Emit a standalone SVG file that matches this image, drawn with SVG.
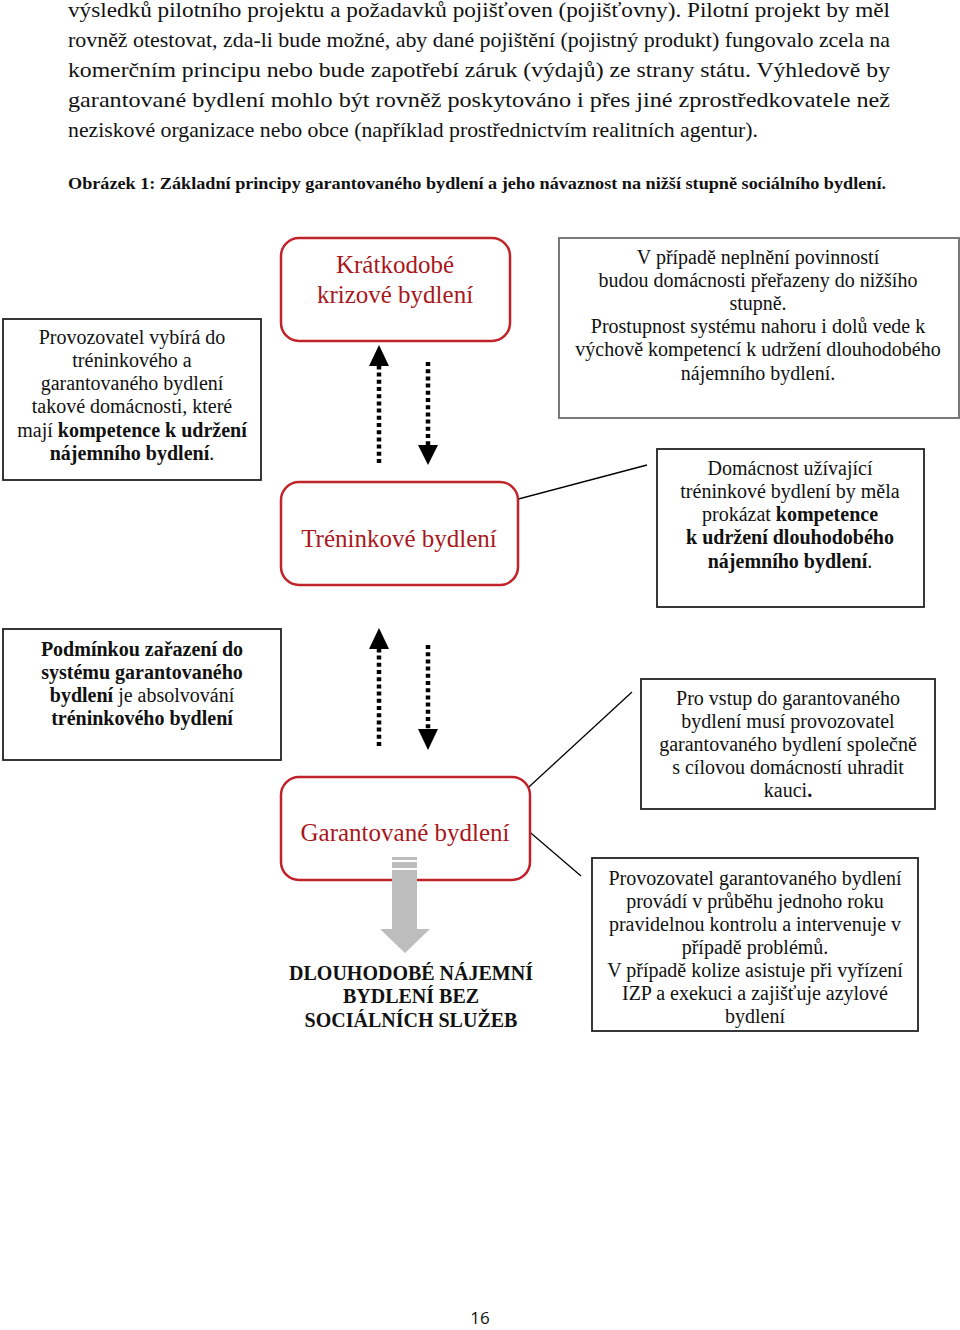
<svg xmlns="http://www.w3.org/2000/svg" width="960" height="1330" viewBox="0 0 960 1330">
<style>
.p{font-family:"Liberation Serif","Times New Roman",serif;font-size:21.5px;fill:#111}
.cap{font-family:"Liberation Serif","Times New Roman",serif;font-size:17px;font-weight:bold;fill:#111}
.t{font-family:"Liberation Serif","Times New Roman",serif;font-size:20px;fill:#111;text-anchor:middle}
.b{font-weight:bold}
.r{font-family:"Liberation Serif","Times New Roman",serif;font-size:25px;fill:#a8171c;text-anchor:middle}
.rb{fill:#fff;stroke:#c0232a;stroke-width:2.5}
.bx{fill:#fff;stroke:#222;stroke-width:1.8}
.gbx{fill:#fff;stroke:#7a7a7a;stroke-width:2}
.dot{stroke:#000;stroke-width:4.5;stroke-dasharray:4 3.2;fill:none}
.ln{stroke:#000;stroke-width:1.3;fill:none}
.hd{fill:#000}
</style>

<g id="body-text">
<text class="p" x="68" y="17" textLength="822" lengthAdjust="spacingAndGlyphs">výsledků pilotního projektu a požadavků pojišťoven (pojišťovny). Pilotní projekt by měl</text>
<text class="p" x="68" y="47" textLength="822" lengthAdjust="spacingAndGlyphs">rovněž otestovat, zda-li bude možné, aby dané pojištění (pojistný produkt) fungovalo zcela na</text>
<text class="p" x="68" y="77" textLength="822" lengthAdjust="spacingAndGlyphs">komerčním principu nebo bude zapotřebí záruk (výdajů) ze strany státu. Výhledově by</text>
<text class="p" x="68" y="107" textLength="822" lengthAdjust="spacingAndGlyphs">garantované bydlení mohlo být rovněž poskytováno i přes jiné zprostředkovatele než</text>
<text class="p" x="68" y="137" textLength="690" lengthAdjust="spacingAndGlyphs">neziskové organizace nebo obce (například prostřednictvím realitních agentur).</text>
<text class="cap" x="68" y="189" textLength="818" lengthAdjust="spacingAndGlyphs">Obrázek 1: Základní principy garantovaného bydlení a jeho návaznost na nižší stupně sociálního bydlení.</text>
</g>

<g id="connectors">
<line class="dot" x1="379" y1="463" x2="379" y2="366"/>
<polygon class="hd" points="369,366 389,366 379,345"/>
<line class="dot" x1="428" y1="362" x2="428" y2="446"/>
<polygon class="hd" points="418,445 438,445 428,465"/>
<line class="dot" x1="379" y1="746" x2="379" y2="649"/>
<polygon class="hd" points="369,649 389,649 379,628"/>
<line class="dot" x1="428" y1="645" x2="428" y2="730"/>
<polygon class="hd" points="418,729 438,729 428,750"/>
<line class="ln" x1="488" y1="507" x2="647" y2="465"/>
<line class="ln" x1="518" y1="797" x2="632" y2="692"/>
<line class="ln" x1="525" y1="828" x2="581" y2="876"/>
</g>

<g id="node-kratkodobe">
<rect class="rb" x="281" y="238" width="229" height="103" rx="18"/>
<text class="r" x="395" y="273">Krátkodobé</text>
<text class="r" x="395" y="303">krizové bydlení</text>
</g>

<g id="node-treninkove">
<rect class="rb" x="281" y="482" width="237" height="103" rx="18"/>
<text class="r" x="399" y="547">Tréninkové bydlení</text>
</g>

<g id="node-garantovane">
<rect class="rb" x="281" y="777" width="249" height="103" rx="18"/>
<text class="r" x="405" y="841">Garantované bydlení</text>
</g>

<g id="block-arrow">
<rect x="392" y="857" width="25" height="3" fill="#bdbdbd"/>
<rect x="392" y="862" width="25" height="6" fill="#bdbdbd"/>
<polygon fill="#bdbdbd" points="392,870 417,870 417,929 430,929 405,953 380,929 392,929"/>
</g>

<g id="node-dlouhodobe">
<text class="t b" x="411" y="980">DLOUHODOBÉ NÁJEMNÍ</text>
<text class="t b" x="411" y="1003">BYDLENÍ BEZ</text>
<text class="t b" x="411" y="1027">SOCIÁLNÍCH SLUŽEB</text>
</g>

<g id="note-provozovatel-vybira">
<rect class="bx" x="3" y="319" width="258" height="161"/>
<text class="t" x="132" y="344">Provozovatel vybírá do</text>
<text class="t" x="132" y="367">tréninkového a</text>
<text class="t" x="132" y="390">garantovaného bydlení</text>
<text class="t" x="132" y="413">takové domácnosti, které</text>
<text class="t" x="132" y="437">mají <tspan class="b">kompetence k udržení</tspan></text>
<text class="t" x="132" y="460"><tspan class="b">nájemního bydlení</tspan>.</text>
</g>

<g id="note-neplneni">
<rect class="gbx" x="559" y="238" width="400" height="180"/>
<text class="t" x="758" y="264">V případě neplnění povinností</text>
<text class="t" x="758" y="287">budou domácnosti přeřazeny do nižšího</text>
<text class="t" x="758" y="310">stupně.</text>
<text class="t" x="758" y="333">Prostupnost systému nahoru i dolů vede k</text>
<text class="t" x="758" y="356">výchově kompetencí k udržení dlouhodobého</text>
<text class="t" x="758" y="380">nájemního bydlení.</text>
</g>

<g id="note-domacnost">
<rect class="bx" x="657" y="449" width="267" height="158"/>
<text class="t" x="790" y="475">Domácnost užívající</text>
<text class="t" x="790" y="498">tréninkové bydlení by měla</text>
<text class="t" x="790" y="521">prokázat <tspan class="b">kompetence</tspan></text>
<text class="t b" x="790" y="544">k udržení dlouhodobého</text>
<text class="t" x="790" y="568"><tspan class="b">nájemního bydlení</tspan>.</text>
</g>

<g id="note-podminkou">
<rect class="bx" x="3" y="629" width="278" height="131"/>
<text class="t" x="142" y="656"><tspan class="b">Podmínkou zařazení do</tspan></text>
<text class="t b" x="142" y="679">systému garantovaného</text>
<text class="t" x="142" y="702"><tspan class="b">bydlení</tspan> je absolvování</text>
<text class="t b" x="142" y="725">tréninkového bydlení</text>
</g>

<g id="note-vstup">
<rect class="bx" x="641" y="679" width="294" height="130"/>
<text class="t" x="788" y="705">Pro vstup do garantovaného</text>
<text class="t" x="788" y="728">bydlení musí provozovatel</text>
<text class="t" x="788" y="751">garantovaného bydlení společně</text>
<text class="t" x="788" y="774">s cílovou domácností uhradit</text>
<text class="t" x="788" y="797">kauci<tspan class="b">.</tspan></text>
</g>

<g id="note-kontrola">
<rect class="bx" x="592" y="858" width="326" height="173"/>
<text class="t" x="755" y="885">Provozovatel garantovaného bydlení</text>
<text class="t" x="755" y="908">provádí v průběhu jednoho roku</text>
<text class="t" x="755" y="931">pravidelnou kontrolu a intervenuje v</text>
<text class="t" x="755" y="954">případě problémů.</text>
<text class="t" x="755" y="977">V případě kolize asistuje při vyřízení</text>
<text class="t" x="755" y="1000">IZP a exekuci a zajišťuje azylové</text>
<text class="t" x="755" y="1023">bydlení</text>
</g>

<g id="page-number">
<text x="480" y="1324" font-family="'Open Sans','Noto Sans',sans-serif" font-size="17" fill="#111" text-anchor="middle">16</text>
</g>
</svg>
